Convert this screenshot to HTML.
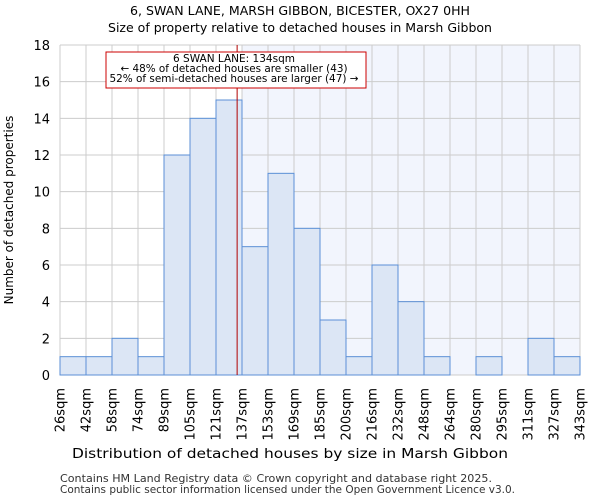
<!DOCTYPE html>
<html><head><meta charset="utf-8"><style>
body{margin:0;background:#fff;}
svg{display:block;font-family:"DejaVu Sans","Liberation Sans",sans-serif;}
</style></head><body>
<svg id="chart" width="600" height="500">
<text x="300" y="15" text-anchor="middle" font-size="12.5" textLength="340" lengthAdjust="spacingAndGlyphs">6, SWAN LANE, MARSH GIBBON, BICESTER, OX27 0HH</text>
<text x="300" y="32" text-anchor="middle" font-size="12.5" textLength="384" lengthAdjust="spacingAndGlyphs">Size of property relative to detached houses in Marsh Gibbon</text>
<g id="plot"></g>
<text x="290" y="458" text-anchor="middle" font-size="13" textLength="436" lengthAdjust="spacingAndGlyphs">Distribution of detached houses by size in Marsh Gibbon</text>
<text transform="translate(13,210) rotate(-90)" text-anchor="middle" font-size="12">Number of detached properties</text>
<text x="60" y="482" font-size="10.5" fill="#333" textLength="432" lengthAdjust="spacingAndGlyphs">Contains HM Land Registry data © Crown copyright and database right 2025.</text>
<text x="60" y="493" font-size="10.5" fill="#333" textLength="455" lengthAdjust="spacingAndGlyphs">Contains public sector information licensed under the Open Government Licence v3.0.</text>
</svg>
<script>
const categories=["26sqm","42sqm","58sqm","74sqm","89sqm","105sqm","121sqm","137sqm","153sqm","169sqm","185sqm","200sqm","216sqm","232sqm","248sqm","264sqm","280sqm","295sqm","311sqm","327sqm","343sqm"];
const counts=[1,1,2,1,12,14,15,7,11,8,3,1,6,4,1,0,1,0,2,1];
const yTicks=[0,2,4,6,8,10,12,14,16,18];
const propertyValue=134;
const binStarts=[26,42,58,74,89,105,121,137,153,169,185,200,216,232,248,264,280,295,311,327,343];
const NS="http://www.w3.org/2000/svg";
const X0=60,X1=580,Y0=375,Y1=45,YMAX=18;
const bw=(X1-X0)/counts.length;
const xb=i=>X0+i*bw;
const y=v=>Y0-(Y0-Y1)*v/YMAX;
const g=document.getElementById('plot');
function mk(t,a){const e=document.createElementNS(NS,t);for(const k in a)e.setAttribute(k,a[k]);g.appendChild(e);return e;}
let pi=0;for(let i=0;i<binStarts.length-1;i++){if(propertyValue>=binStarts[i]&&propertyValue<binStarts[i+1])pi=i;}
const px=xb(pi)+bw*(propertyValue-binStarts[pi])/(binStarts[pi+1]-binStarts[pi]);
const shade=mk('rect',{x:xb(pi+1),y:Y1,width:X1-xb(pi+1),height:Y0-Y1,fill:'#f2f5fd'});


for(let i=0;i<=counts.length;i++){const l=mk('line',{x1:xb(i),x2:xb(i),y1:Y1,y2:Y0,stroke:'#ccc','stroke-width':1});

}
yTicks.forEach(t=>{const l=mk('line',{x1:X0,x2:X1,y1:y(t),y2:y(t),stroke:'#ccc','stroke-width':1});


const tx=mk('text',{x:X0-10,y:y(t)+5,'text-anchor':'end','font-size':13});tx.textContent=t;

});
counts.forEach((c,i)=>{if(c<=0)return;const r=mk('rect',{x:xb(i),y:y(c),width:bw,height:Y0-y(c),fill:'#dce6f5',stroke:'#5b8fd6','stroke-width':1});

});
categories.forEach((c,i)=>{const t=mk('text',{transform:`translate(${xb(i)+4.5},388) rotate(-90)`,'text-anchor':'end','font-size':13});t.textContent=c;

});
const pl=mk('line',{x1:px,x2:px,y1:Y1,y2:Y0,stroke:'#b00000','stroke-width':1});


const box=mk('rect',{x:106,y:52,width:260,height:36,fill:'#fff',stroke:'#c00','stroke-width':1});


const lens=[122,227,249];
["6 SWAN LANE: 134sqm","← 48% of detached houses are smaller (43)","52% of semi-detached houses are larger (47) →"].forEach((s,i)=>{const t=mk('text',{x:234,y:62+i*10,'text-anchor':'middle','font-size':10.5,textLength:lens[i],lengthAdjust:'spacingAndGlyphs'});t.textContent=s;

});
</script>
</body></html>
